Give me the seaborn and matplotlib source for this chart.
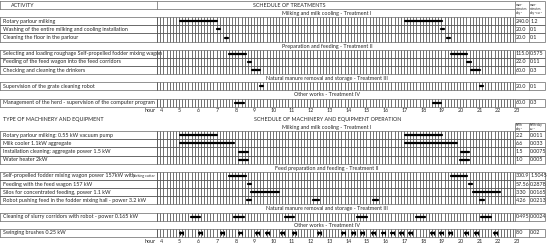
import numpy as np
import pandas as pd
import matplotlib.pyplot as plt
import seaborn as sns

sns.set_theme(style="white")
plt.rcParams['font.family'] = ['Lato', 'DejaVu Sans']

# ---- data: schedule of treatments (man-minutes) ----
top_sections = ["Milking and milk cooling - Treatment I",
                "Preparation and feeding - Treatment II",
                "Natural manure removal and storage - Treatment III",
                "Other works - Treatment IV"]
top_labels = ["Rotary parlour milking",
              "Washing of the entire milking and cooling installation",
              "Cleaning the floor in the parlour",
              "Selecting and loading roughage Self-propelled fodder mixing wagon",
              "Feeding of the feed wagon into the feed corridors",
              "Checking and cleaning the drinkers",
              "Supervision of the grate cleaning robot",
              "Management of the herd - supervision of the computer program"]
top_man_min = ["240.0", "20.0", "20.0", "115.0", "22.0", "60.0", "20.0", "60.0"]
top_man_min_cu = ["1.2", "0.1", "0.1", "0.575", "0.11", "0.3", "0.1", "0.3"]
top_times = [
    [(5, 7), (17, 19)],
    [(7.0, 7.17), (18.95, 19.12)],
    [(7.42, 7.58), (19.25, 19.42)],
    [(7.65, 8.52), (19.46, 20.34)],
    [(8.62, 8.78), (20.35, 20.52)],
    [(8.84, 9.3), (20.54, 21.0)],
    [(9.3, 9.45), (21.03, 21.2)],
    [(7.95, 8.43), (18.5, 18.94)],
]

# ---- data: machinery and equipment operation (kWh) ----
bot_sections = ["Milking and milk cooling - Treatment I",
                "Feed preparation and feeding - Treatment II",
                "Natural manure removal and storage - Treatment III",
                "Other works - Treatment IV"]
bot_labels = ["Rotary parlour milking: 0.55 kW vacuum pump",
              "Milk cooler 1.1kW aggregate",
              "Installation cleaning: aggregate power 1.5 kW",
              "Water heater 2kW",
              "Self-propelled fodder mixing wagon power 157kW with",
              "Feeding with the feed wagon 157 kW",
              "Silos for concentrated feeding, power 1.1 kW",
              "Robot pushing feed in the fodder mixing hall - power 3.2 kW",
              "Cleaning of slurry corridors with robot - power 0.165 kW",
              "Swinging brushes 0.25 kW"]
bot_kwh = ["2.2", "6.6", "1.5", "1.0", "300.9", "57.56", "3.30", "4.26", "0.495", "8.0"]
bot_kwh_cu = ["0.011", "0.033", "0.0075", "0.005", "1.5045", "0.2878", "0.0165", "0.0213", "0.0024", "0.02"]
bot_times = [
    [(5, 7), (17, 19)],
    [(5, 7.9), (17, 19.8)],
    [(8.16, 8.63), (20.0, 20.44)],
    [(8.16, 8.63), (19.95, 20.44)],
    [(7.65, 8.52), (19.46, 20.34)],
    [(8.62, 8.78), (20.42, 20.58)],
    [(8.8, 10.3), (20.63, 22.1)],
    [(8.57, 8.8), (12.1, 12.43), (15.3, 15.6), (21.0, 21.24)],
    [(5.6, 6.1), (7.9, 8.43), (10.6, 11.1), (14.44, 14.97), (17.6, 18.1), (21.1, 21.6)],
    [(5.04, 5.2), (6.04, 6.2), (7.21, 7.37), (8.17, 8.33), (9.06, 9.22), (9.59, 9.75),
     (10.41, 10.57), (11.07, 11.23), (12.37, 12.53), (13.65, 13.81), (14.18, 14.34),
     (14.7, 14.86), (15.25, 15.41), (15.78, 15.94), (16.26, 16.42), (16.76, 16.92),
     (17.21, 17.37), (18.42, 18.58), (18.9, 19.06), (19.39, 19.55), (20.23, 20.39),
     (20.77, 20.93), (21.78, 21.94)],
]
hours = list(range(4, 24))

# ---- row layout ----
top_rows = [2, 3, 4, 6, 7, 8, 10, 12]
top_sec_rows = [1, 5, 9, 11]
bot_rows = [16, 17, 18, 19, 21, 22, 23, 24, 26, 28]
bot_sec_rows = [15, 20, 25, 27]

X0, GL, GR, C2, C3 = -4.55, 3.8, 22.9, 23.66, 24.5
FS = 3.9
LC = '#555555'

fig = plt.figure(figsize=(5.5, 2.48), dpi=100)
ax = fig.add_axes([0, 0, 1, 1])

# segments through seaborn
segs = []
for rows, times in ((top_rows, top_times), (bot_rows, bot_times)):
    for r, iv in zip(rows, times):
        for k, (s, e) in enumerate(iv):
            segs.append({"seg": f"{r}_{k}", "hour": s, "row": r})
            segs.append({"seg": f"{r}_{k}", "hour": e, "row": r})
df = pd.DataFrame(segs)

# grid of activity rows
ticks = np.arange(GL, GR + 1e-6, 1 / 6)
for r in top_rows + bot_rows:
    ax.vlines(ticks, r - 0.5, r + 0.5, color='#222222', lw=0.45, zorder=1)
    ax.hlines([r - 0.5, r + 0.5], X0 - 0.1, C3, color=LC, lw=0.45, zorder=1)
    ax.vlines([X0 - 0.03, GL, GR, C2, C3], r - 0.5, r + 0.5, color=LC, lw=0.45, zorder=1)

sns.lineplot(data=df, x="hour", y="row", units="seg", estimator=None, sort=False,
             color="black", lw=1.6, ax=ax, zorder=3)

# end caps on the short brush runs
caps = df[df["row"] == bot_rows[-1]]
sns.scatterplot(data=caps, x="hour", y="row", marker="|", s=9, linewidth=0.8,
                color="black", ax=ax, zorder=3, legend=False)

# labels and values
for rows, labels, v1, v2 in ((top_rows, top_labels, top_man_min, top_man_min_cu),
                             (bot_rows, bot_labels, bot_kwh, bot_kwh_cu)):
    for r, lab, a, b in zip(rows, labels, v1, v2):
        ax.text(X0 + 0.12, r, lab, fontsize=FS, va='center', ha='left', clip_on=True)
        ax.text(GR + 0.04, r, a, fontsize=FS, va='center', ha='left')
        ax.text(C2 + 0.04, r, b, fontsize=FS, va='center', ha='left')
ax.text(2.5, 21, "picking cutter", fontsize=2.6, va='center', ha='left')

for rows, secs in ((top_sec_rows, top_sections), (bot_sec_rows, bot_sections)):
    for r, s in zip(rows, secs):
        ax.text(12.85, r + 0.05, s, fontsize=FS, va='center', ha='center')

# headers
ax.hlines([-0.45, 0.55], X0 - 0.1, GR, color=LC, lw=0.45)
ax.vlines([X0 - 0.03, GL], -0.45, 0.55, color=LC, lw=0.45)
ax.text(X0 + 0.55, 0.05, "ACTIVITY", fontsize=FS, va='center', ha='left')
ax.text(10.85, 0.05, "SCHEDULE OF TREATMENTS", fontsize=FS, va='center', ha='center')
ax.hlines([-0.55, 1.5], GR, C3, color=LC, lw=0.45)
ax.vlines([GR, C2, C3], -0.55, 1.5, color=LC, lw=0.45)
ax.text(GR + 0.04, 0.5, "man-\nminutes\nday⁻¹", fontsize=2.3, va='center', ha='left', linespacing=1.0)
ax.text(C2 + 0.04, 0.5, "man-\nminutes\nday⁻¹cu⁻¹", fontsize=2.3, va='center', ha='left', linespacing=1.0)

ax.text(X0 + 0.12, 14.05, "TYPE OF MACHINERY AND EQUIPMENT", fontsize=FS, va='center', ha='left')
ax.text(12.9, 14.05, "SCHEDULE OF MACHINERY AND EQUIPMENT OPERATION", fontsize=FS, va='center', ha='center')
ax.hlines([14.5, 15.5], GR, C3, color=LC, lw=0.45)
ax.vlines([GR, C2, C3], 14.5, 15.5, color=LC, lw=0.45)
ax.text(GR + 0.04, 15.0, "kWh\nday⁻¹", fontsize=2.3, va='center', ha='left', linespacing=1.0)
ax.text(C2 + 0.04, 15.0, "kWh·day\ncu⁻¹", fontsize=2.3, va='center', ha='left', linespacing=1.0)

# hour axes
for r in (13, 29):
    ax.text(3.72, r, "hour", fontsize=FS, va='center', ha='right')
    for h in hours:
        ax.text(h, r, str(h), fontsize=FS, va='center', ha='center')

ax.set_xlim(-4.59, 24.76)
ax.set_ylim(29.85, -0.614)
ax.axis('off')
fig.savefig("out.png", dpi=100)
